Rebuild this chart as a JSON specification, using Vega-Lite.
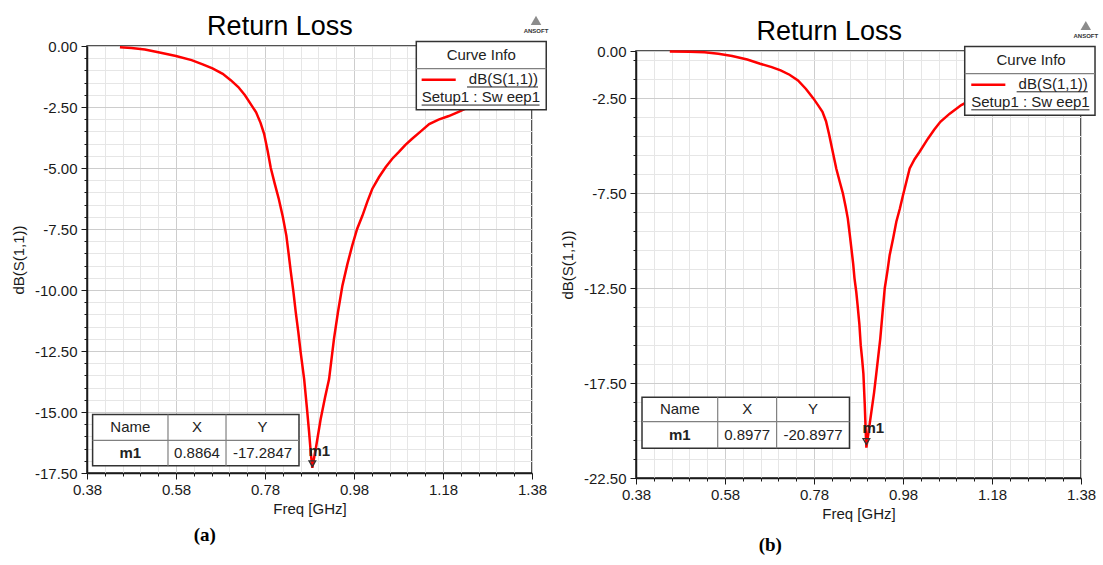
{
  "$schema": "https://vega.github.io/schema/vega-lite/v6.json",
  "background": "white",
  "padding": {"left": 10, "top": 12, "right": 0, "bottom": 0},
  "spacing": 9,
  "datasets": {
    "curve_a": [
      {"f": 0.454, "db": -0.05}, {"f": 0.48, "db": -0.08}, {"f": 0.51, "db": -0.14}, {"f": 0.543, "db": -0.27},
      {"f": 0.58, "db": -0.41}, {"f": 0.615, "db": -0.58}, {"f": 0.64, "db": -0.75}, {"f": 0.662, "db": -0.92},
      {"f": 0.685, "db": -1.14}, {"f": 0.703, "db": -1.4}, {"f": 0.72, "db": -1.68}, {"f": 0.735, "db": -2.02},
      {"f": 0.748, "db": -2.38}, {"f": 0.76, "db": -2.72}, {"f": 0.77, "db": -3.15}, {"f": 0.778, "db": -3.6},
      {"f": 0.786, "db": -4.3}, {"f": 0.793, "db": -5.0}, {"f": 0.802, "db": -5.65}, {"f": 0.811, "db": -6.27},
      {"f": 0.82, "db": -7.0}, {"f": 0.828, "db": -7.77}, {"f": 0.833, "db": -8.5}, {"f": 0.838, "db": -9.26},
      {"f": 0.844, "db": -10.1}, {"f": 0.849, "db": -10.9}, {"f": 0.855, "db": -11.75}, {"f": 0.86, "db": -12.54},
      {"f": 0.868, "db": -13.65}, {"f": 0.874, "db": -14.8}, {"f": 0.879, "db": -15.8}, {"f": 0.883, "db": -16.7},
      {"f": 0.8864, "db": -17.2847}, {"f": 0.895, "db": -16.4}, {"f": 0.905, "db": -15.3}, {"f": 0.915, "db": -14.4},
      {"f": 0.924, "db": -13.65}, {"f": 0.935, "db": -12.0}, {"f": 0.944, "db": -10.9}, {"f": 0.954, "db": -9.82},
      {"f": 0.965, "db": -8.95}, {"f": 0.976, "db": -8.18}, {"f": 0.987, "db": -7.5}, {"f": 0.999, "db": -6.95},
      {"f": 1.01, "db": -6.38}, {"f": 1.021, "db": -5.86}, {"f": 1.036, "db": -5.38}, {"f": 1.051, "db": -4.97},
      {"f": 1.066, "db": -4.62}, {"f": 1.081, "db": -4.34}, {"f": 1.095, "db": -4.06}, {"f": 1.11, "db": -3.81},
      {"f": 1.13, "db": -3.5}, {"f": 1.149, "db": -3.2}, {"f": 1.17, "db": -3.02}, {"f": 1.193, "db": -2.87},
      {"f": 1.215, "db": -2.7}, {"f": 1.238, "db": -2.5}, {"f": 1.26, "db": -2.35}, {"f": 1.29, "db": -2.15},
      {"f": 1.32, "db": -1.98}, {"f": 1.35, "db": -1.83}, {"f": 1.38, "db": -1.7}
    ],
    "marker_a": [{"name": "m1", "x": 0.8864, "y": -17.2847}],
    "curve_b": [
      {"f": 0.456, "db": -0.02}, {"f": 0.5, "db": -0.04}, {"f": 0.534, "db": -0.06}, {"f": 0.565, "db": -0.14},
      {"f": 0.596, "db": -0.26}, {"f": 0.63, "db": -0.45}, {"f": 0.659, "db": -0.67}, {"f": 0.685, "db": -0.85},
      {"f": 0.705, "db": -1.02}, {"f": 0.725, "db": -1.25}, {"f": 0.744, "db": -1.55}, {"f": 0.762, "db": -2.0},
      {"f": 0.779, "db": -2.51}, {"f": 0.789, "db": -2.85}, {"f": 0.799, "db": -3.2}, {"f": 0.807, "db": -3.7},
      {"f": 0.814, "db": -4.4}, {"f": 0.822, "db": -5.3}, {"f": 0.83, "db": -6.19}, {"f": 0.838, "db": -6.9},
      {"f": 0.845, "db": -7.51}, {"f": 0.851, "db": -8.2}, {"f": 0.856, "db": -8.83}, {"f": 0.86, "db": -9.6},
      {"f": 0.864, "db": -10.4}, {"f": 0.868, "db": -11.2}, {"f": 0.871, "db": -11.98}, {"f": 0.875, "db": -12.7},
      {"f": 0.878, "db": -13.4}, {"f": 0.882, "db": -14.4}, {"f": 0.885, "db": -15.5}, {"f": 0.888, "db": -16.2},
      {"f": 0.891, "db": -17.0}, {"f": 0.894, "db": -18.6}, {"f": 0.896, "db": -19.9}, {"f": 0.8977, "db": -20.8977},
      {"f": 0.903, "db": -20.0}, {"f": 0.909, "db": -19.0}, {"f": 0.915, "db": -18.0}, {"f": 0.92, "db": -17.0},
      {"f": 0.929, "db": -15.14}, {"f": 0.934, "db": -13.8}, {"f": 0.939, "db": -12.5}, {"f": 0.945, "db": -11.6},
      {"f": 0.95, "db": -10.76}, {"f": 0.958, "db": -9.85}, {"f": 0.965, "db": -9.0}, {"f": 0.973, "db": -8.3},
      {"f": 0.98, "db": -7.6}, {"f": 0.988, "db": -6.85}, {"f": 0.995, "db": -6.19}, {"f": 1.006, "db": -5.7},
      {"f": 1.017, "db": -5.32}, {"f": 1.036, "db": -4.62}, {"f": 1.05, "db": -4.15}, {"f": 1.064, "db": -3.73},
      {"f": 1.085, "db": -3.3}, {"f": 1.111, "db": -2.85}, {"f": 1.14, "db": -2.5}, {"f": 1.17, "db": -2.2},
      {"f": 1.2, "db": -1.95}, {"f": 1.25, "db": -1.6}, {"f": 1.3, "db": -1.35}, {"f": 1.38, "db": -1.05}
    ],
    "marker_b": [{"name": "m1", "x": 0.8977, "y": -20.8977}]
  },
  "hconcat": [
    {
      "title": {"text": "(a)", "orient": "bottom", "anchor": "start", "font": "Liberation Serif", "fontSize": 19, "fontWeight": "bold", "offset": 9, "dx": 183},
      "vconcat": [
        {
          "width": 445,
          "height": 427,
          "title": {"text": "Return Loss", "offset": -25, "frame": "bounds", "anchor": "middle"},
          "resolve": {"axis": {"x": "independent", "y": "independent"}},
          "layer": [
            {
              "data": {"name": "curve_a"},
              "mark": {"type": "line", "color": "#ff0000", "strokeWidth": 2.5},
              "encoding": {
                "x": {
                  "field": "f", "type": "quantitative",
                  "scale": {"domain": [0.38, 1.38], "nice": false, "zero": false},
                  "axis": {
                    "orient": "bottom", "title": "Freq [GHz]", "titlePadding": 4, "labelPadding": 3,
                    "labelFontSize": 15, "titleFontSize": 15, "labelOverlap": false, "labelFlush": false, "labelBound": false,
                    "values": [0.38, 0.42, 0.46, 0.5, 0.54, 0.58, 0.62, 0.66, 0.7, 0.74, 0.78, 0.82, 0.86, 0.9, 0.94, 0.98, 1.02, 1.06, 1.1, 1.14, 1.18, 1.22, 1.26, 1.3, 1.34, 1.38],
                    "labelExpr": "abs((datum.value - 0.38) / 0.2 - round((datum.value - 0.38) / 0.2)) < 0.01 ? format(datum.value, '.2f') : ''",
                    "tickSize": {"condition": {"test": "abs((datum.value - 0.38) / 0.2 - round((datum.value - 0.38) / 0.2)) < 0.01", "value": 6}, "value": 3},
                    "gridColor": {"condition": {"test": "abs((datum.value - 0.38) / 0.2 - round((datum.value - 0.38) / 0.2)) < 0.01", "value": "#cdcdcd"}, "value": "#e6e6e6"}
                  }
                },
                "y": {
                  "field": "db", "type": "quantitative",
                  "scale": {"domain": [-17.5, 0], "nice": false, "zero": false},
                  "axis": {
                    "orient": "left", "title": "dB(S(1,1))", "titlePadding": 8, "labelPadding": 4,
                    "labelFontSize": 15, "titleFontSize": 15, "labelOverlap": false, "labelFlush": false, "labelBound": false,
                    "values": [0, -0.5, -1, -1.5, -2, -2.5, -3, -3.5, -4, -4.5, -5, -5.5, -6, -6.5, -7, -7.5, -8, -8.5, -9, -9.5, -10, -10.5, -11, -11.5, -12, -12.5, -13, -13.5, -14, -14.5, -15, -15.5, -16, -16.5, -17, -17.5],
                    "labelExpr": "abs(datum.value / 2.5 - round(datum.value / 2.5)) < 0.01 ? replace(format(datum.value, '.2f'), '\u2212', '-') : ''",
                    "tickSize": {"condition": {"test": "abs(datum.value / 2.5 - round(datum.value / 2.5)) < 0.01", "value": 6}, "value": 3},
                    "gridColor": {"condition": {"test": "abs(datum.value / 2.5 - round(datum.value / 2.5)) < 0.01", "value": "#cdcdcd"}, "value": "#e6e6e6"}
                  }
                }
              }
            },
            {
              "data": {"name": "marker_a"},
              "mark": {"type": "point", "shape": "triangle-down", "filled": false, "stroke": "#333333", "strokeWidth": 1.3, "size": 45, "yOffset": -4, "opacity": 1},
              "encoding": {"x": {"field": "x", "type": "quantitative", "axis": null}, "y": {"field": "y", "type": "quantitative", "axis": null}}
            },
            {
              "data": {"name": "marker_a"},
              "mark": {"type": "text", "fontSize": 15, "fontWeight": "bold", "color": "#222222", "dx": 7, "dy": -17},
              "encoding": {"x": {"field": "x", "type": "quantitative", "axis": null}, "y": {"field": "y", "type": "quantitative", "axis": null}, "text": {"field": "name"}}
            },
            {
              "data": {"name": "marker_a"},
              "mark": {"type": "rect", "fill": "white", "stroke": "#333333", "strokeWidth": 1.5},
              "encoding": {"x": {"datum": 0.3926, "axis": null}, "x2": {"datum": 0.8564}, "y": {"datum": -15.1, "axis": null}, "y2": {"datum": -17.2}}
            },
            {
              "data": {"name": "marker_a"},
              "mark": {"type": "rule", "color": "#808080", "strokeWidth": 1.2},
              "encoding": {"x": {"datum": 0.562, "axis": null}, "y": {"datum": -15.1, "axis": null}, "y2": {"datum": -17.2}}
            },
            {
              "data": {"name": "marker_a"},
              "mark": {"type": "rule", "color": "#808080", "strokeWidth": 1.2},
              "encoding": {"x": {"datum": 0.6924, "axis": null}, "y": {"datum": -15.1, "axis": null}, "y2": {"datum": -17.2}}
            },
            {
              "data": {"name": "marker_a"},
              "mark": {"type": "rule", "color": "#808080", "strokeWidth": 1.2},
              "encoding": {"x": {"datum": 0.3926, "axis": null}, "x2": {"datum": 0.8564}, "y": {"datum": -16.16, "axis": null}}
            },
            {
              "data": {"name": "marker_a"},
              "mark": {"type": "text", "text": "Name", "fontSize": 15, "color": "#222222", "baseline": "middle"},
              "encoding": {"x": {"datum": 0.4773, "axis": null}, "y": {"datum": -15.63, "axis": null}}
            },
            {
              "data": {"name": "marker_a"},
              "mark": {"type": "text", "text": "X", "fontSize": 15, "color": "#222222", "baseline": "middle"},
              "encoding": {"x": {"datum": 0.6272, "axis": null}, "y": {"datum": -15.63, "axis": null}}
            },
            {
              "data": {"name": "marker_a"},
              "mark": {"type": "text", "text": "Y", "fontSize": 15, "color": "#222222", "baseline": "middle"},
              "encoding": {"x": {"datum": 0.7744, "axis": null}, "y": {"datum": -15.63, "axis": null}}
            },
            {
              "data": {"name": "marker_a"},
              "mark": {"type": "text", "fontSize": 15, "fontWeight": "bold", "color": "#222222", "baseline": "middle"},
              "encoding": {"x": {"datum": 0.4773, "axis": null}, "y": {"datum": -16.68, "axis": null}, "text": {"field": "name"}}
            },
            {
              "data": {"name": "marker_a"},
              "mark": {"type": "text", "fontSize": 15, "color": "#222222", "baseline": "middle"},
              "encoding": {"x": {"datum": 0.6272, "axis": null}, "y": {"datum": -16.68, "axis": null}, "text": {"field": "x", "type": "nominal"}}
            },
            {
              "data": {"name": "marker_a"},
              "mark": {"type": "text", "fontSize": 15, "color": "#222222", "baseline": "middle"},
              "encoding": {"x": {"datum": 0.7744, "axis": null}, "y": {"datum": -16.68, "axis": null}, "text": {"field": "y", "type": "nominal"}}
            },
            {
              "data": {"name": "marker_a"},
              "mark": {"type": "rect", "fill": "white", "stroke": "#333333", "strokeWidth": 1.5},
              "encoding": {"x": {"datum": 1.12, "axis": null}, "x2": {"datum": 1.412}, "y": {"datum": 0.18, "axis": null}, "y2": {"datum": -2.61}}
            },
            {
              "data": {"name": "marker_a"},
              "mark": {"type": "rule", "color": "#808080", "strokeWidth": 1.2},
              "encoding": {"x": {"datum": 1.12, "axis": null}, "x2": {"datum": 1.412}, "y": {"datum": -0.93, "axis": null}}
            },
            {
              "data": {"name": "marker_a"},
              "mark": {"type": "text", "text": "Curve Info", "fontSize": 15, "color": "#222222", "baseline": "middle"},
              "encoding": {"x": {"datum": 1.266, "axis": null}, "y": {"datum": -0.36, "axis": null}}
            },
            {
              "data": {"name": "marker_a"},
              "mark": {"type": "rule", "color": "#ff0000", "strokeWidth": 2.5},
              "encoding": {"x": {"datum": 1.132, "axis": null}, "x2": {"datum": 1.2086}, "y": {"datum": -1.385, "axis": null}}
            },
            {
              "data": {"name": "marker_a"},
              "mark": {"type": "text", "text": "dB(S(1,1))", "fontSize": 15, "color": "#222222", "baseline": "middle", "align": "right"},
              "encoding": {"x": {"datum": 1.3935, "axis": null}, "y": {"datum": -1.37, "axis": null}}
            },
            {
              "data": {"name": "marker_a"},
              "mark": {"type": "rule", "color": "#222222", "strokeWidth": 1},
              "encoding": {"x": {"datum": 1.234, "axis": null}, "x2": {"datum": 1.3935}, "y": {"datum": -1.68, "axis": null}}
            },
            {
              "data": {"name": "marker_a"},
              "mark": {"type": "text", "text": "Setup1 : Sw eep1", "fontSize": 15, "color": "#222222", "baseline": "middle", "align": "left"},
              "encoding": {"x": {"datum": 1.132, "axis": null}, "y": {"datum": -2.11, "axis": null}}
            },
            {
              "data": {"name": "marker_a"},
              "mark": {"type": "rule", "color": "#222222", "strokeWidth": 1},
              "encoding": {"x": {"datum": 1.132, "axis": null}, "x2": {"datum": 1.397}, "y": {"datum": -2.42, "axis": null}}
            },
            {
              "data": {"name": "marker_a"},
              "mark": {"type": "point", "shape": "triangle-up", "filled": true, "color": "#8c8c8c", "size": 110, "opacity": 1},
              "encoding": {"x": {"datum": 1.389, "axis": null}, "y": {"datum": 1.05, "axis": null}}
            },
            {
              "data": {"name": "marker_a"},
              "mark": {"type": "text", "text": "ANSOFT", "fontSize": 6, "fontWeight": "bold", "color": "#333333", "baseline": "middle"},
              "encoding": {"x": {"datum": 1.389, "axis": null}, "y": {"datum": 0.62, "axis": null}}
            }
          ]
        }
      ]
    },
    {
      "spacing": -30,
      "vconcat": [
        {
          "data": {"values": []},
          "mark": "point",
          "width": 10,
          "height": 1,
          "view": {"stroke": null}
        },
        {
          "title": {"text": "(b)", "orient": "bottom", "anchor": "start", "font": "Liberation Serif", "fontSize": 19, "fontWeight": "bold", "offset": 14, "dx": 199},
          "vconcat": [
            {
              "width": 445,
              "height": 427,
              "title": {"text": "Return Loss", "offset": -25, "frame": "bounds", "anchor": "middle"},
              "resolve": {"axis": {"x": "independent", "y": "independent"}},
              "layer": [
                {
                  "data": {"name": "curve_b"},
                  "mark": {"type": "line", "color": "#ff0000", "strokeWidth": 2.5},
                  "encoding": {
                    "x": {
                      "field": "f", "type": "quantitative",
                      "scale": {"domain": [0.38, 1.38], "nice": false, "zero": false},
                      "axis": {
                        "orient": "bottom", "title": "Freq [GHz]", "titlePadding": 4, "labelPadding": 3,
                        "labelFontSize": 15, "titleFontSize": 15, "labelOverlap": false, "labelFlush": false, "labelBound": false,
                        "values": [0.38, 0.42, 0.46, 0.5, 0.54, 0.58, 0.62, 0.66, 0.7, 0.74, 0.78, 0.82, 0.86, 0.9, 0.94, 0.98, 1.02, 1.06, 1.1, 1.14, 1.18, 1.22, 1.26, 1.3, 1.34, 1.38],
                        "labelExpr": "abs((datum.value - 0.38) / 0.2 - round((datum.value - 0.38) / 0.2)) < 0.01 ? format(datum.value, '.2f') : ''",
                        "tickSize": {"condition": {"test": "abs((datum.value - 0.38) / 0.2 - round((datum.value - 0.38) / 0.2)) < 0.01", "value": 6}, "value": 3},
                        "gridColor": {"condition": {"test": "abs((datum.value - 0.38) / 0.2 - round((datum.value - 0.38) / 0.2)) < 0.01", "value": "#cdcdcd"}, "value": "#e6e6e6"}
                      }
                    },
                    "y": {
                      "field": "db", "type": "quantitative",
                      "scale": {"domain": [-22.5, 0], "nice": false, "zero": false},
                      "axis": {
                        "orient": "left", "title": "dB(S(1,1))", "titlePadding": 8, "labelPadding": 4,
                        "labelFontSize": 15, "titleFontSize": 15, "labelOverlap": false, "labelFlush": false, "labelBound": false,
                        "values": [0, -0.5, -1.5, -2.5, -3.5, -4.5, -5.5, -6.5, -7.5, -8.5, -9.5, -10.5, -11.5, -12.5, -13.5, -14.5, -15.5, -16.5, -17.5, -18.5, -19.5, -20.5, -21.5, -22.5],
                        "labelExpr": "datum.value == 0 || abs((datum.value + 2.5) / 5 - round((datum.value + 2.5) / 5)) < 0.01 ? replace(format(datum.value, '.2f'), '\u2212', '-') : ''",
                        "tickSize": {"condition": {"test": "datum.value == 0 || abs((datum.value + 2.5) / 5 - round((datum.value + 2.5) / 5)) < 0.01", "value": 6}, "value": 3},
                        "gridColor": {"condition": {"test": "datum.value == 0 || abs((datum.value + 2.5) / 5 - round((datum.value + 2.5) / 5)) < 0.01", "value": "#cdcdcd"}, "value": "#e6e6e6"}
                      }
                    }
                  }
                },
                {
                  "data": {"name": "marker_b"},
                  "mark": {"type": "point", "shape": "triangle-down", "filled": false, "stroke": "#333333", "strokeWidth": 1.3, "size": 45, "yOffset": -6, "opacity": 1},
                  "encoding": {"x": {"field": "x", "type": "quantitative", "axis": null}, "y": {"field": "y", "type": "quantitative", "axis": null}}
                },
                {
                  "data": {"name": "marker_b"},
                  "mark": {"type": "text", "fontSize": 15, "fontWeight": "bold", "color": "#222222", "dx": 7, "dy": -20},
                  "encoding": {"x": {"field": "x", "type": "quantitative", "axis": null}, "y": {"field": "y", "type": "quantitative", "axis": null}, "text": {"field": "name"}}
                },
                {
                  "data": {"name": "marker_b"},
                  "mark": {"type": "rect", "fill": "white", "stroke": "#333333", "strokeWidth": 1.5},
                  "encoding": {"x": {"datum": 0.3935, "axis": null}, "x2": {"datum": 0.8597}, "y": {"datum": -18.25, "axis": null}, "y2": {"datum": -20.93}}
                },
                {
                  "data": {"name": "marker_b"},
                  "mark": {"type": "rule", "color": "#808080", "strokeWidth": 1.2},
                  "encoding": {"x": {"datum": 0.5636, "axis": null}, "y": {"datum": -18.25, "axis": null}, "y2": {"datum": -20.93}}
                },
                {
                  "data": {"name": "marker_b"},
                  "mark": {"type": "rule", "color": "#808080", "strokeWidth": 1.2},
                  "encoding": {"x": {"datum": 0.696, "axis": null}, "y": {"datum": -18.25, "axis": null}, "y2": {"datum": -20.93}}
                },
                {
                  "data": {"name": "marker_b"},
                  "mark": {"type": "rule", "color": "#808080", "strokeWidth": 1.2},
                  "encoding": {"x": {"datum": 0.3935, "axis": null}, "x2": {"datum": 0.8597}, "y": {"datum": -19.53, "axis": null}}
                },
                {
                  "data": {"name": "marker_b"},
                  "mark": {"type": "text", "text": "Name", "fontSize": 15, "color": "#222222", "baseline": "middle"},
                  "encoding": {"x": {"datum": 0.4786, "axis": null}, "y": {"datum": -18.89, "axis": null}}
                },
                {
                  "data": {"name": "marker_b"},
                  "mark": {"type": "text", "text": "X", "fontSize": 15, "color": "#222222", "baseline": "middle"},
                  "encoding": {"x": {"datum": 0.6298, "axis": null}, "y": {"datum": -18.89, "axis": null}}
                },
                {
                  "data": {"name": "marker_b"},
                  "mark": {"type": "text", "text": "Y", "fontSize": 15, "color": "#222222", "baseline": "middle"},
                  "encoding": {"x": {"datum": 0.7779, "axis": null}, "y": {"datum": -18.89, "axis": null}}
                },
                {
                  "data": {"name": "marker_b"},
                  "mark": {"type": "text", "fontSize": 15, "fontWeight": "bold", "color": "#222222", "baseline": "middle"},
                  "encoding": {"x": {"datum": 0.4786, "axis": null}, "y": {"datum": -20.23, "axis": null}, "text": {"field": "name"}}
                },
                {
                  "data": {"name": "marker_b"},
                  "mark": {"type": "text", "fontSize": 15, "color": "#222222", "baseline": "middle"},
                  "encoding": {"x": {"datum": 0.6298, "axis": null}, "y": {"datum": -20.23, "axis": null}, "text": {"field": "x", "type": "nominal"}}
                },
                {
                  "data": {"name": "marker_b"},
                  "mark": {"type": "text", "fontSize": 15, "color": "#222222", "baseline": "middle"},
                  "encoding": {"x": {"datum": 0.7779, "axis": null}, "y": {"datum": -20.23, "axis": null}, "text": {"field": "y", "type": "nominal"}}
                },
                {
                  "data": {"name": "marker_b"},
                  "mark": {"type": "rect", "fill": "white", "stroke": "#333333", "strokeWidth": 1.5},
                  "encoding": {"x": {"datum": 1.1187, "axis": null}, "x2": {"datum": 1.4115}, "y": {"datum": 0.24, "axis": null}, "y2": {"datum": -3.39}}
                },
                {
                  "data": {"name": "marker_b"},
                  "mark": {"type": "rule", "color": "#808080", "strokeWidth": 1.2},
                  "encoding": {"x": {"datum": 1.1187, "axis": null}, "x2": {"datum": 1.4115}, "y": {"datum": -1.19, "axis": null}}
                },
                {
                  "data": {"name": "marker_b"},
                  "mark": {"type": "text", "text": "Curve Info", "fontSize": 15, "color": "#222222", "baseline": "middle"},
                  "encoding": {"x": {"datum": 1.2678, "axis": null}, "y": {"datum": -0.46, "axis": null}}
                },
                {
                  "data": {"name": "marker_b"},
                  "mark": {"type": "rule", "color": "#ff0000", "strokeWidth": 2.5},
                  "encoding": {"x": {"datum": 1.1334, "axis": null}, "x2": {"datum": 1.21}, "y": {"datum": -1.78, "axis": null}}
                },
                {
                  "data": {"name": "marker_b"},
                  "mark": {"type": "text", "text": "dB(S(1,1))", "fontSize": 15, "color": "#222222", "baseline": "middle", "align": "right"},
                  "encoding": {"x": {"datum": 1.3953, "axis": null}, "y": {"datum": -1.75, "axis": null}}
                },
                {
                  "data": {"name": "marker_b"},
                  "mark": {"type": "rule", "color": "#222222", "strokeWidth": 1},
                  "encoding": {"x": {"datum": 1.2354, "axis": null}, "x2": {"datum": 1.3953}, "y": {"datum": -2.15, "axis": null}}
                },
                {
                  "data": {"name": "marker_b"},
                  "mark": {"type": "text", "text": "Setup1 : Sw eep1", "fontSize": 15, "color": "#222222", "baseline": "middle", "align": "left"},
                  "encoding": {"x": {"datum": 1.1334, "axis": null}, "y": {"datum": -2.71, "axis": null}}
                },
                {
                  "data": {"name": "marker_b"},
                  "mark": {"type": "rule", "color": "#222222", "strokeWidth": 1},
                  "encoding": {"x": {"datum": 1.1334, "axis": null}, "x2": {"datum": 1.399}, "y": {"datum": -3.1, "axis": null}}
                },
                {
                  "data": {"name": "marker_b"},
                  "mark": {"type": "point", "shape": "triangle-up", "filled": true, "color": "#8c8c8c", "size": 110, "opacity": 1},
                  "encoding": {"x": {"datum": 1.3908, "axis": null}, "y": {"datum": 1.34, "axis": null}}
                },
                {
                  "data": {"name": "marker_b"},
                  "mark": {"type": "text", "text": "ANSOFT", "fontSize": 6, "fontWeight": "bold", "color": "#333333", "baseline": "middle"},
                  "encoding": {"x": {"datum": 1.3908, "axis": null}, "y": {"datum": 0.8, "axis": null}}
                }
              ]
            }
          ]
        }
      ]
    }
  ],
  "config": {
    "font": "Liberation Sans",
    "view": {"stroke": "#1a1a1a", "strokeWidth": 1.5},
    "axis": {
      "labelFont": "Liberation Sans", "labelFontSize": 15, "labelColor": "#1a1a1a",
      "titleFont": "Liberation Sans", "titleFontSize": 15, "titleFontWeight": "normal", "titleColor": "#1a1a1a",
      "domainColor": "#1a1a1a", "domainWidth": 1.5, "tickColor": "#1a1a1a", "tickWidth": 1,
      "gridWidth": 1, "labelFlush": false, "labelOverlap": false, "labelBound": false
    },
    "title": {"font": "Liberation Sans", "fontSize": 27, "fontWeight": "normal", "color": "#000000", "offset": 8}
  }
}
